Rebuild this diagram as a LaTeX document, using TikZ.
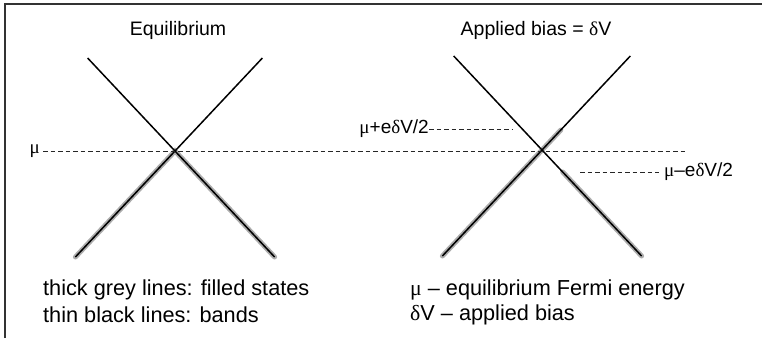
\documentclass[tikz,border=0pt]{standalone}
\usepackage{fontspec}
\setmainfont{Liberation Sans}
\newfontfamily\grk{Liberation Serif}
\newcommand{\mU}{{\grk μ}}
\newcommand{\dE}{{\grk δ}}
\begin{document}
\begin{tikzpicture}[x=1pt,y=-1pt,
  band/.style={line width=1.5pt,black},
  filled/.style={line width=5pt,black!32,line cap=round,shift={(1.6,1.2)}},
  fermi/.style={dashed,dash pattern=on 4.5pt off 3pt,line width=0.8pt,black!85},
  frame/.style={line width=2pt,black!80},
  title/.style={font=\fontsize{19.5}{22}\selectfont,inner sep=0pt},
  lbl/.style={font=\fontsize{19}{22}\selectfont,inner sep=0pt},
  note/.style={font=\fontsize{21.7}{25}\selectfont,inner sep=0pt,anchor=west,align=left}]
\useasboundingbox (0,0) rectangle (762,338);
\fill[white] (0,0) rectangle (762,338);
% frame (top and left edges)
\coordinate (fr1) at (5,338);
\coordinate (fr2) at (5,4);
\coordinate (fr3) at (762,4);
\draw[frame] (fr1) -- (fr2) -- (fr3);

% ---- left panel: equilibrium ----
\coordinate (LC) at (175,151);
\coordinate (LTL) at (87.6,58);
\coordinate (LTR) at (262.4,58);
\coordinate (LBL) at (75.4,257);
\coordinate (LBR) at (274.6,257);
\draw[filled] (LBL) -- (LC) -- (LBR);
\draw[band] (LTL) -- (LBR);
\draw[band] (LTR) -- (LBL);

% ---- right panel: applied bias ----
\coordinate (RC) at (542,150);
\coordinate (RTL) at (453.7,56);
\coordinate (RTR) at (630.3,56);
\coordinate (RBL) at (442.4,256);
\coordinate (RBR) at (641.6,256);
\coordinate (Rup) at (560.8,130);
\coordinate (Rdn) at (562.7,172);
\draw[filled] (RBL) -- (Rup);
\draw[filled] (Rdn) -- (RBR);
\draw[band] (RTL) -- (RBR);
\draw[band] (RTR) -- (RBL);

% ---- Fermi levels ----
\node[lbl,anchor=east] (mu) at (40,151) {\mU};
\coordinate (muend) at (688,151);
\draw[fermi] (mu.east) ++(3,0) coordinate (mustart) (mustart) -- (muend);

\node[lbl,anchor=east] (muplus) at (429,129) {\mU+e\dE V/2};
\coordinate (mpend) at (512,129);
\draw[fermi] (muplus.east) -- (mpend);

\node[lbl,anchor=west] (muminus) at (664,172) {\mU–e\dE V/2};
\coordinate (mmstart) at (580,172);
\draw[fermi] (mmstart) -- ([xshift=-5pt]muminus.west);

% ---- titles ----
\node[title] (t1) at (178,30) {Equilibrium};
\node[title] (t2) at (536,30) {Applied bias = \dE V};

% ---- notes ----
\node[note] (n1) at (43,290) {thick grey lines: filled states};
\node[note] (n2) at (43,315) {thin black lines: bands};
\node[note] (n3) at (410,290) {\mU{} – equilibrium Fermi energy};
\node[note] (n4) at (410,315) {\dE V – applied bias};
\end{tikzpicture}
\end{document}
